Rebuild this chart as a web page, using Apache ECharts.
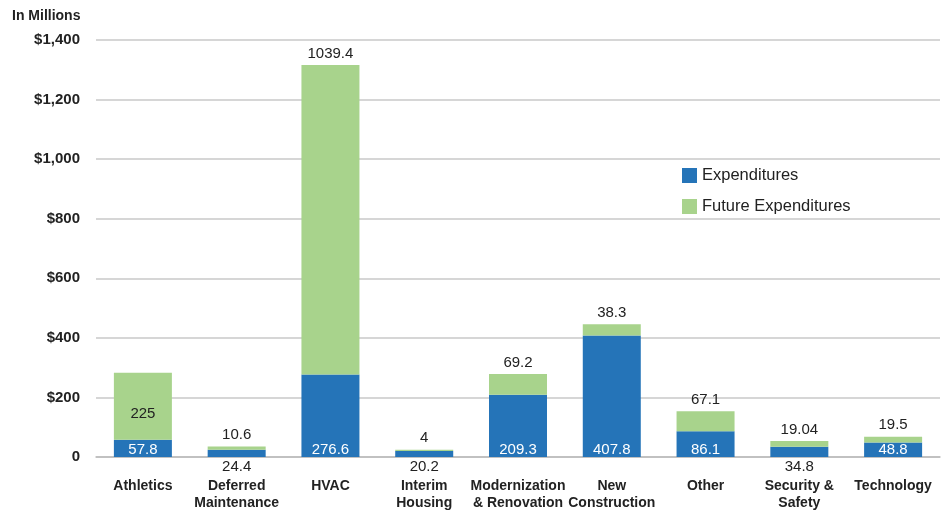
<!DOCTYPE html>
<html><head><meta charset="utf-8">
<script src="https://cdn.jsdelivr.net/npm/echarts@6/dist/echarts.min.js"></script>
<style>html,body{margin:0;padding:0;background:#fff}#c{width:941px;height:514px}</style>
</head><body><div id="c"></div>
<script>
const categories = ['Athletics','Deferred\nMaintenance','HVAC','Interim\nHousing','Modernization\n& Renovation','New\nConstruction','Other','Security &\nSafety','Technology'];
const expenditures = [57.8, 24.4, 276.6, 20.2, 209.3, 407.8, 86.1, 34.8, 48.8];
const futureExpenditures = [225, 10.6, 1039.4, 4, 69.2, 38.3, 67.1, 19.04, 19.5];
const yTicks = [0, 200, 400, 600, 800, 1000, 1200, 1400];
const belowLabels = [1, 3, 7];
const insideFuture = [0];

const chart = echarts.init(document.getElementById('c'));
const fam = 'Helvetica, Arial, "Liberation Sans", sans-serif';
chart.setOption({
  animation: false,
  textStyle: {fontFamily: fam},
  grid: {left: 96, right: 1, top: 40, bottom: 57},
  legend: {
    orient: 'vertical', left: 677, top: 162, itemWidth: 15, itemHeight: 15, itemGap: 14,
    icon: 'rect',
    textStyle: {fontSize: 16.5, color: '#222', fontFamily: fam},
    data: ['Expenditures', 'Future Expenditures']
  },
  graphic: [{type: 'text', left: 12, top: 9, style: {text: 'In Millions', fontSize: 14, fontWeight: 'bold', fill: '#222', fontFamily: fam}}],
  xAxis: {
    type: 'category', data: categories,
    axisTick: {show: false},
    axisLine: {lineStyle: {color: '#bbb', width: 1.5}},
    axisLabel: {interval: 0, margin: 21, fontSize: 14, fontWeight: 'bold', color: '#222', lineHeight: 17,
      fontFamily: '"Liberation Sans Narrow", "Arial Narrow", ' + fam}
  },
  yAxis: {
    type: 'value', min: yTicks[0], max: yTicks[yTicks.length - 1], interval: 200,
    axisLine: {show: false}, axisTick: {show: false},
    splitLine: {lineStyle: {color: '#c8c8c8', width: 1.5}},
    axisLabel: {margin: 16, fontSize: 15, fontWeight: 'bold', color: '#222',
      formatter: v => v === 0 ? '0' : '$' + v.toLocaleString('en-US')}
  },
  series: [
    {
      name: 'Expenditures', type: 'bar', stack: 'a', barWidth: 58,
      itemStyle: {color: '#2574b8'},
      data: expenditures.map((v, i) => ({
        value: v,
        label: belowLabels.includes(i)
          ? {show: true, position: 'bottom', distance: 2, color: '#222'}
          : {show: true, position: 'insideBottom', distance: 0, color: '#fff'}
      })),
      label: {fontSize: 15, fontFamily: fam}
    },
    {
      name: 'Future Expenditures', type: 'bar', stack: 'a', barWidth: 58,
      itemStyle: {color: '#a8d38c'},
      data: futureExpenditures.map((v, i) => ({
        value: v,
        label: insideFuture.includes(i)
          ? {show: true, position: 'inside', offset: [0, 8], color: '#222'}
          : {show: true, position: 'top', distance: 4, color: '#222'}
      })),
      label: {fontSize: 15, fontFamily: fam}
    }
  ]
});
</script></body></html>
